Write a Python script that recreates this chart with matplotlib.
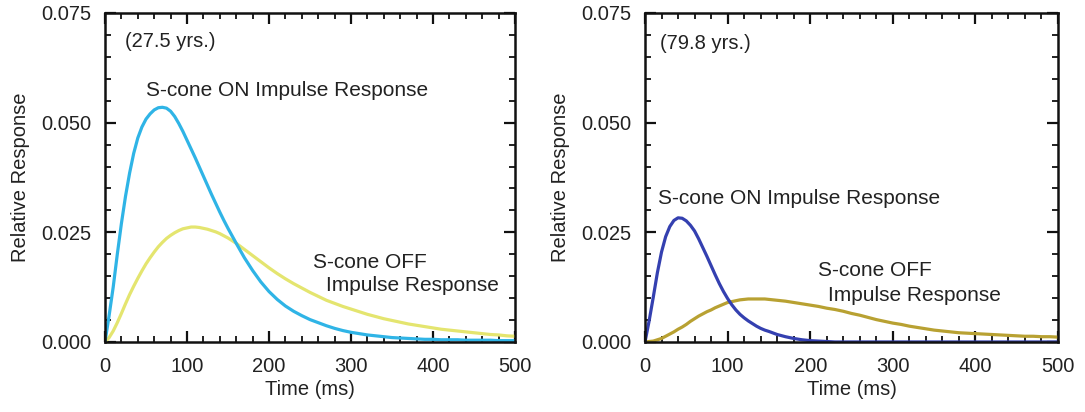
import matplotlib
matplotlib.use("Agg")
import matplotlib.pyplot as plt
from matplotlib.ticker import MultipleLocator, FormatStrFormatter

plt.rcParams.update({"font.family": ["Liberation Sans", "DejaVu Sans"], "font.size": 14})

# time axis (ms): 5 ms steps over the peaks, 10 ms steps on the tails
time_ms = list(range(0, 150, 5)) + list(range(150, 510, 10))

# 27.5 yrs observer
young_on = [0, 0.0060, 0.0125, 0.0200, 0.0270, 0.0332, 0.0385, 0.0430, 0.0465, 0.0490,
            0.0508, 0.0520, 0.0529, 0.0534, 0.0535, 0.0533, 0.0526, 0.0514, 0.0498, 0.0480,
            0.0460, 0.0440, 0.0420, 0.0399, 0.0378, 0.0357, 0.0336, 0.0316, 0.0296, 0.0277,
            0.0259,
            0.0225, 0.0192, 0.0163, 0.0137, 0.0115, 0.0097, 0.0082, 0.0070, 0.0060, 0.0051,
            0.0044, 0.0037, 0.0031, 0.0026, 0.0022, 0.0019, 0.0016, 0.0014, 0.0012, 0.0010,
            0.0009, 0.0008, 0.0007, 0.0006, 0.0006, 0.0005, 0.0005, 0.0005, 0.0004, 0.0004,
            0.0004, 0.0004, 0.0003, 0.0003, 0.0003]
young_off = [0, 0.0010, 0.0025, 0.0044, 0.0065, 0.0087, 0.0108, 0.0127, 0.0145, 0.0162,
             0.0178, 0.0192, 0.0205, 0.0217, 0.0227, 0.0236, 0.0243, 0.0249, 0.0254, 0.0258,
             0.0260, 0.0262, 0.0262, 0.0261, 0.0259, 0.0257, 0.0254, 0.0251, 0.0247, 0.0242,
             0.0237,
             0.0225, 0.0211, 0.0197, 0.0183, 0.0169, 0.0156, 0.0144, 0.0133, 0.0123, 0.0113,
             0.0104, 0.0095, 0.0088, 0.0081, 0.0075, 0.0069, 0.0063, 0.0058, 0.0053, 0.0049,
             0.0045, 0.0041, 0.0038, 0.0035, 0.0032, 0.0029, 0.0027, 0.0025, 0.0023, 0.0021,
             0.0019, 0.0017, 0.0016, 0.0014, 0.0013]

# 79.8 yrs observer
old_on = [0, 0.0048, 0.0102, 0.0158, 0.0205, 0.0240, 0.0263, 0.0277, 0.0283, 0.0282,
          0.0276, 0.0266, 0.0253, 0.0235, 0.0215, 0.0195, 0.0174, 0.0153, 0.0133, 0.0115,
          0.0099, 0.0085, 0.0073, 0.0063, 0.0055, 0.0048, 0.0042, 0.0036, 0.0031, 0.0027,
          0.0024,
          0.0017, 0.0012, 0.0008, 0.0005, 0.0003, 0.0002, 0.0001, 0, 0, 0,
          0, 0, 0, 0, 0, 0, 0, 0, 0, 0,
          0, 0, 0, 0, 0, 0, 0, 0, 0, 0,
          0, 0, 0, 0, 0]
old_off = [0, 0.0001, 0.0002, 0.0005, 0.0008, 0.0013, 0.0018, 0.0023, 0.0029, 0.0034,
           0.0040, 0.0047, 0.0053, 0.0059, 0.0064, 0.0069, 0.0073, 0.0078, 0.0082, 0.0086,
           0.0090, 0.0092, 0.0094, 0.0096, 0.0097, 0.0098, 0.0098, 0.0098, 0.0098, 0.0098,
           0.0097,
           0.0095, 0.0093, 0.0090, 0.0087, 0.0084, 0.0081, 0.0077, 0.0074, 0.0070, 0.0065,
           0.0061, 0.0056, 0.0051, 0.0047, 0.0043, 0.0040, 0.0036, 0.0033, 0.0030, 0.0027,
           0.0025, 0.0023, 0.0021, 0.0020, 0.0019, 0.0018, 0.0017, 0.0016, 0.0015, 0.0014,
           0.0013, 0.0013, 0.0012, 0.0012, 0.0011]

panels = [
    dict(on=young_on, off=young_off, on_c="#2fb4e6", off_c="#e4e56f", age="(27.5 yrs.)",
         age_xy=(24, 0.0684), on_xy=(50, 0.0574), off_xy=(254, 0.0182), imp_xy=(270, 0.0129)),
    dict(on=old_on, off=old_off, on_c="#3440b0", off_c="#b8a132", age="(79.8 yrs.)",
         age_xy=(18, 0.0680), on_xy=(16, 0.0327), off_xy=(209, 0.0164), imp_xy=(222, 0.0107)),
]

fig = plt.figure(figsize=(10.85, 4.12), dpi=100)
rects = [(105 / 1085, 0.170, 410 / 1085, 0.7985), (645 / 1085, 0.170, 413 / 1085, 0.7985)]
txt = "#222222"

for rect, p in zip(rects, panels):
    ax = fig.add_axes(rect)
    ax.plot(time_ms, p["off"], color=p["off_c"], lw=2.3, solid_joinstyle="round")
    ax.plot(time_ms, p["on"], color=p["on_c"], lw=2.3, solid_joinstyle="round")
    ax.set_xlim(0, 500)
    ax.set_ylim(0, 0.075)
    ax.xaxis.set_major_locator(MultipleLocator(100))
    ax.xaxis.set_minor_locator(MultipleLocator(20))
    ax.yaxis.set_major_locator(MultipleLocator(0.025))
    ax.yaxis.set_minor_locator(MultipleLocator(0.005))
    ax.yaxis.set_major_formatter(FormatStrFormatter("%.3f"))
    ax.tick_params(which="both", direction="in", top=True, right=True, colors="#111111",
                   labelcolor=txt, labelsize=14.5)
    ax.tick_params(which="major", length=8, width=1.6)
    ax.tick_params(axis="y", which="major", pad=10)
    ax.tick_params(axis="x", which="major", pad=11)
    ax.tick_params(which="minor", length=4, width=1.3)
    for s in ax.spines.values():
        s.set_linewidth(1.8)
        s.set_color("#111111")
    ax.set_xlabel("Time (ms)", fontsize=14.5, color=txt, labelpad=3)
    ax.set_ylabel("Relative Response", fontsize=14.5, color=txt, labelpad=8)

    ax.text(*p["age_xy"], p["age"], fontsize=14.5, color=txt, va="center")
    ax.text(*p["on_xy"], "S-cone ON Impulse Response", fontsize=15, color=txt, va="center")
    ax.text(*p["off_xy"], "S-cone OFF", fontsize=15, color=txt, va="center")
    ax.text(*p["imp_xy"], "Impulse Response", fontsize=15, color=txt, va="center")

fig.savefig("out.png", dpi=100)
